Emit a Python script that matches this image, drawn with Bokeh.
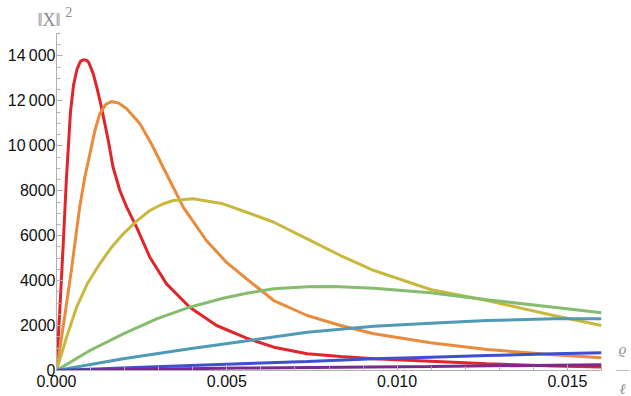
from bokeh.plotting import figure
from bokeh.models import Range1d, Label, FixedTicker, CustomJSTickFormatter
from bokeh.embed import file_html
from bokeh.resources import INLINE

# ---- data ----
red_x = [0, 0.0001, 0.0002, 0.00029, 0.00041, 0.0005, 0.0006, 0.0007, 0.00077, 0.00083, 0.0009, 0.00095,
         0.00108, 0.0012, 0.00132, 0.00152, 0.00166, 0.00186, 0.00206, 0.00235, 0.00274, 0.00323,
         0.00391, 0.0047, 0.00558, 0.00638, 0.00736, 0.00834, 0.00932, 0.01098, 0.01264, 0.0146, 0.016]
red_y = [0, 2800, 5700, 8500, 11500, 12700, 13400, 13750, 13820, 13827, 13790, 13700,
         13204, 12500, 11718, 10236, 9047, 8011, 7270, 6378, 5043, 3857,
         2818, 2003, 1439, 1038, 742, 623, 520, 415, 297, 200, 160]

orange_x = [0, 0.00024, 0.00044, 0.00068, 0.00083, 0.00098, 0.00113, 0.00127, 0.00145, 0.00161,
            0.00183, 0.00206, 0.00245, 0.0028, 0.00313, 0.00372, 0.0044, 0.005, 0.00558, 0.00638,
            0.00736, 0.00834, 0.00932, 0.01098, 0.01264, 0.0146, 0.016]
orange_y = [0, 2400, 4500, 7270, 8600, 9644, 10700, 11424, 11850, 11971,
            11900, 11650, 10979, 10050, 9047, 7270, 5786, 4800, 4081, 3115,
            2448, 2003, 1633, 1233, 935, 699, 565]

yellow_x = [0, 0.0003, 0.00059, 0.0009, 0.00127, 0.0016, 0.00196, 0.00235, 0.00274, 0.0031, 0.00343,
            0.00401, 0.00489, 0.00558, 0.00638, 0.00736, 0.00834, 0.00932, 0.01098, 0.01264, 0.0146, 0.016]
yellow_y = [0, 1500, 2818, 3850, 4748, 5450, 6083, 6650, 7120, 7400, 7566,
            7641, 7418, 7045, 6600, 5860, 5118, 4450, 3605, 3115, 2448, 2003]

green_x = [0, 0.00098, 0.00196, 0.00294, 0.00391, 0.00489, 0.00558, 0.00638, 0.00736, 0.00814,
           0.00932, 0.01098, 0.01264, 0.0146, 0.016]
green_y = [0, 890, 1633, 2300, 2818, 3218, 3440, 3636, 3725, 3738,
           3663, 3458, 3146, 2818, 2568]

teal_x = [0, 0.00196, 0.00391, 0.0055, 0.00736, 0.00932, 0.01098, 0.01264, 0.0146, 0.016]
teal_y = [0, 520, 965, 1300, 1705, 1972, 2105, 2225, 2300, 2300]

blue_x = [0, 0.0025, 0.0054, 0.00736, 0.00932, 0.01098, 0.01264, 0.0146, 0.016]
blue_y = [0, 140, 300, 400, 520, 592, 668, 743, 788]

purple_x = [0, 0.0054, 0.011, 0.016]
purple_y = [0, 110, 180, 260]

series = [
    (red_x, red_y, "#e0262a"),
    (orange_x, orange_y, "#e98b3a"),
    (yellow_x, yellow_y, "#c8b93e"),
    (green_x, green_y, "#86bc6d"),
    (teal_x, teal_y, "#4f9bb5"),
    (blue_x, blue_y, "#3d50d0"),
    (purple_x, purple_y, "#7a2a8c"),
]

x_major = [0, 0.005, 0.010, 0.015]
x_minor = [i * 0.001 for i in range(17)]
y_major = [0, 2000, 4000, 6000, 8000, 10000, 12000, 14000]
y_minor = [i * 500 for i in range(31)]

p = figure(width=631, height=396, output_backend="svg", toolbar_location=None,
           x_range=Range1d(0, 0.016), y_range=Range1d(0, 15000),
           min_border_left=56, min_border_right=30, min_border_top=33, min_border_bottom=26)
p.outline_line_color = None
p.grid.visible = False
p.background_fill_color = "white"
p.border_fill_color = "white"

for xs, ys, c in series:
    p.line(xs, ys, line_color=c, line_width=3)

gray = "#b0b0b0"
for ax in (p.xaxis[0], p.yaxis[0]):
    ax.axis_line_color = gray
    ax.major_tick_line_color = gray
    ax.minor_tick_line_color = gray
    ax.major_tick_in = 6
    ax.major_tick_out = 0
    ax.minor_tick_in = 4
    ax.minor_tick_out = 0
    ax.major_label_text_font = "Liberation Sans"
    ax.major_label_text_font_size = "16px"
    ax.major_label_text_color = "#111111"
    ax.axis_label_standoff = 0
p.xaxis.major_label_standoff = 4
p.yaxis.major_label_standoff = 1

p.xaxis.ticker = FixedTicker(ticks=x_major, minor_ticks=x_minor)
p.yaxis.ticker = FixedTicker(ticks=y_major, minor_ticks=y_minor)
p.xaxis.formatter = CustomJSTickFormatter(code="return tick.toFixed(3);")
p.yaxis.formatter = CustomJSTickFormatter(code="""
var s = Math.round(tick).toString();
if (s.length > 4) { s = s.slice(0, s.length - 3) + '\\u2009' + s.slice(s.length - 3); }
return s;
""")

lab_col = "#8c8c8c"
# y-axis label at the top of the axis (side panels are not clipped)
p.add_layout(Label(x=-0.00056, y=15580, text="\u2016X\u2016",
                   text_font="Liberation Serif", text_font_size="18px", text_color=lab_col,
                   text_align="left", text_baseline="alphabetic"), "above")
p.add_layout(Label(x=0.00026, y=15960, text="2",
                   text_font="Liberation Serif", text_font_size="14px", text_color=lab_col,
                   text_align="left", text_baseline="alphabetic"), "right")

# x-axis label as a fraction at the right end of the axis
p.add_layout(Label(x=0.01662, y=60, text="\u03f1\n\u2014\n\u2113",
                   text_font="Liberation Serif", text_font_style="italic",
                   text_font_size="15px", text_line_height=1.25, text_color=lab_col,
                   text_align="center", text_baseline="middle"), "right")

open("out.html", "w").write(file_html(p, INLINE))
